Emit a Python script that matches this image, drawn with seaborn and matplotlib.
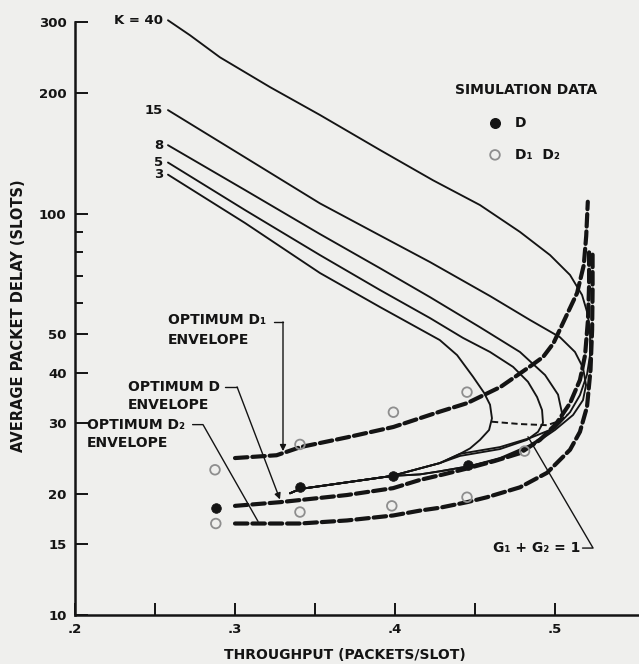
import numpy as np
import pandas as pd
import seaborn as sns
import matplotlib.pyplot as plt
from matplotlib.ticker import FixedLocator, FixedFormatter, NullFormatter

# throughput (packets/slot) vs average packet delay (slots)
# each K curve: upper branch left->right, nose, lower branch back to the left
K3_x = [0.2581, 0.3063, 0.3531, 0.3906, 0.428, 0.4388, 0.4488, 0.4556, 0.4594, 0.4606, 0.4588,
        0.4531, 0.4469, 0.4406, 0.428, 0.398, 0.3406, 0.3344]
K3_y = [125, 94.7, 71.1, 58.5, 48.4, 44.4, 39.2, 35.8, 33.4, 30.9, 28.9,
        27.3, 26.0, 25.2, 23.9, 22.2, 20.6, 20.1]

K5_x = [0.2581, 0.3063, 0.3531, 0.3906, 0.4219, 0.4425, 0.4594, 0.4738, 0.4831, 0.4888, 0.4919,
        0.4925, 0.4894, 0.4825, 0.4656, 0.4406, 0.428, 0.398, 0.3406, 0.3344]
K5_y = [134, 102, 78.8, 64.5, 54.9, 49.0, 45.2, 41.5, 38.1, 34.9, 32.4,
        30.1, 28.6, 27.3, 25.9, 24.9, 23.9, 22.2, 20.6, 20.1]

K8_x = [0.2581, 0.3063, 0.3531, 0.3906, 0.4219, 0.4531, 0.4781, 0.4938, 0.5019, 0.5044, 0.5031,
        0.4969, 0.4844, 0.4656, 0.4406, 0.428, 0.398, 0.3406, 0.3344]
K8_y = [148, 114.4, 88.9, 73.1, 61.9, 52.1, 45.2, 39.6, 35.4, 31.8, 30.2,
        28.9, 27.6, 26.2, 25.2, 23.9, 22.2, 20.6, 20.1]

K15_x = [0.2581, 0.3063, 0.3531, 0.3906, 0.4219, 0.4594, 0.4844, 0.5031, 0.5125, 0.5175, 0.5194,
         0.5175, 0.5113, 0.500, 0.4844, 0.4656, 0.4469, 0.428, 0.4156, 0.398, 0.3406, 0.3344]
K15_y = [181, 138, 106, 88.2, 75.7, 62.3, 54.3, 49.2, 45.2, 41.3, 37.4,
         34.3, 31.5, 28.9, 26.2, 24.5, 23.5, 22.8, 22.4, 22.2, 20.6, 20.1]

K40_x = [0.2581, 0.2719, 0.2906, 0.3219, 0.3531, 0.3906, 0.4238, 0.4531, 0.4781, 0.4969, 0.5094,
         0.5169, 0.5206, 0.5219, 0.5219, 0.520, 0.5156, 0.5094, 0.500, 0.4844, 0.4656, 0.4469,
         0.428, 0.4156, 0.398, 0.3406, 0.3344]
K40_y = [303, 278, 245, 206.5, 176, 144, 121, 105, 90, 78.8, 70.3,
         62.7, 55.9, 50, 44.4, 39.7, 35.3, 32.0, 29.2, 26.5, 24.6, 23.5,
         22.8, 22.4, 22.2, 20.6, 20.1]

K_values = ["K = 40", "15", "8", "5", "3"]

# optimum envelopes (thick dashed)
D1_env_x = [0.300, 0.326, 0.341, 0.370, 0.399, 0.428, 0.445, 0.466, 0.484, 0.4925, 0.499, 0.505,
            0.5138, 0.518, 0.5195, 0.5205]
D1_env_y = [24.6, 25.0, 26.2, 27.7, 29.4, 32.1, 33.7, 37.0, 41.5, 43.9, 47.5, 53.4,
            63.4, 74.4, 87.9, 107]

D_env_x = [0.300, 0.3281, 0.370, 0.3988, 0.4156, 0.4313, 0.4456, 0.4625, 0.4781, 0.4906, 0.5006,
           0.5094, 0.5156, 0.5188, 0.5206, 0.5213, 0.5213]
D_env_y = [18.7, 19.1, 19.9, 20.7, 21.7, 22.45, 23.2, 24.2, 25.3, 27.3, 29.9,
           33.7, 38.5, 44.4, 54.3, 66.4, 82]

D2_env_x = [0.300, 0.3406, 0.370, 0.399, 0.4156, 0.428, 0.445, 0.4575, 0.4781, 0.495, 0.5094,
            0.5156, 0.520, 0.5222, 0.5232, 0.5235, 0.5235]
D2_env_y = [16.9, 16.9, 17.2, 17.7, 18.2, 18.5, 19.1, 19.65, 20.8, 22.6, 25.8,
            28.6, 33.0, 40.8, 51.3, 64.4, 79]

# G1 + G2 = 1 locus (thin dashed)
G_x = [0.4606, 0.478, 0.495, 0.5025, 0.508]
G_y = [30.3, 29.9, 29.7, 30.4, 31.6]

# simulation data
sim_D_x = [0.288, 0.3406, 0.399, 0.4456]
sim_D_y = [18.5, 20.8, 22.2, 23.6]
sim_D1_x = [0.2875, 0.3406, 0.399, 0.445]
sim_D1_y = [23.0, 26.6, 32.0, 35.9]
sim_D2_x = [0.288, 0.3406, 0.398, 0.445, 0.481]
sim_D2_y = [16.9, 18.05, 18.7, 19.65, 25.6]

y_ticks = [10, 15, 20, 30, 40, 50, 100, 200, 300]
y_tick_labels = ["10", "15", "20", "30", "40", "50", "100", "200", "300"]
y_minor = [60, 70, 80, 90]
x_ticks = [0.2, 0.3, 0.4, 0.5]
x_tick_labels = [".2", ".3", ".4", ".5"]
x_minor = [0.25, 0.35, 0.45]

paper = "#efefed"
ink = "#141414"
ring = "#8e8e8e"

sns.set_theme(style="ticks")
plt.rcParams["font.family"] = ["DejaVu Sans"]
plt.rcParams["font.weight"] = "bold"
plt.rcParams["lines.scale_dashes"] = False

fig = plt.figure(figsize=(6.39, 6.64), dpi=100, facecolor=paper)
ax = fig.add_axes([75 / 639, 49 / 664, 564 / 639, 593 / 664], facecolor=paper)
ax.set_yscale("log")

curves = [(K40_x, K40_y), (K15_x, K15_y), (K8_x, K8_y), (K5_x, K5_y), (K3_x, K3_y)]
for (xs, ys), lab in zip(curves, K_values):
    sns.lineplot(x=xs, y=ys, sort=False, estimator=None, errorbar=None,
                 color=ink, linewidth=1.35, clip_on=False, ax=ax)
    ax.text(xs[0] - 0.003, ys[0], lab, ha="right", va="center",
            fontsize=9.5, fontweight="bold", color=ink)

for xs, ys in [(D1_env_x, D1_env_y), (D_env_x, D_env_y), (D2_env_x, D2_env_y)]:
    sns.lineplot(x=xs, y=ys, sort=False, estimator=None, errorbar=None,
                 color=ink, linewidth=3.0, linestyle=(0, (9, 3.5)),
                 dash_capstyle="round", ax=ax)

sns.lineplot(x=G_x, y=G_y, sort=False, estimator=None, errorbar=None,
             color=ink, linewidth=1.4, linestyle=(0, (4.5, 2.5)), ax=ax)

sns.scatterplot(x=sim_D_x, y=sim_D_y, s=48, color=ink, edgecolor=ink, zorder=5, ax=ax)
sns.scatterplot(x=sim_D1_x + sim_D2_x, y=sim_D1_y + sim_D2_y, s=48,
                facecolor="none", edgecolor=ring, linewidth=1.3, zorder=5, ax=ax)

# labels and leader lines
tk = dict(fontsize=10, fontweight="bold", color=ink, va="center")
arrow = dict(arrowstyle="-|>", color=ink, lw=1.0, mutation_scale=9, shrinkA=0, shrinkB=0)

ax.text(0.2581, 54.2, "OPTIMUM D\u2081", ha="left", **tk)
ax.text(0.2581, 48.4, "ENVELOPE", ha="left", **tk)
ax.plot([0.3245, 0.330], [53.7, 53.7], color=ink, lw=1.0)
ax.annotate("", xy=(0.330, 25.6), xytext=(0.330, 53.7), arrowprops=arrow)

ax.text(0.2331, 37.0, "OPTIMUM D", ha="left", **tk)
ax.text(0.2331, 33.3, "ENVELOPE", ha="left", **tk)
ax.plot([0.2935, 0.3013], [37.0, 37.0], color=ink, lw=1.0)
ax.annotate("", xy=(0.3281, 19.4), xytext=(0.3013, 37.0), arrowprops=arrow)

ax.text(0.2075, 29.8, "OPTIMUM D\u2082", ha="left", **tk)
ax.text(0.2075, 26.8, "ENVELOPE", ha="left", **tk)
ax.plot([0.2735, 0.280, 0.3144], [29.8, 29.8, 17.1], color=ink, lw=1.0)

ax.text(0.5156, 14.68, "G\u2081 + G\u2082 = 1", ha="right", **tk)
ax.plot([0.5172, 0.5238, 0.4831], [14.68, 14.68, 27.8], color=ink, lw=1.0)

# legend block
ax.text(0.4375, 203, "SIMULATION DATA", ha="left", **tk)
ax.scatter([0.4625], [168], s=48, color=ink)
ax.text(0.475, 168, "D", ha="left", **tk)
ax.scatter([0.4625], [140], s=48, facecolor="none", edgecolor=ring, linewidth=1.3)
ax.text(0.475, 140, "D\u2081  D\u2082", ha="left", **tk)

# axes styling
ax.set_xlim(0.2, 0.5525)
ax.set_ylim(10, 300)
ax.yaxis.set_major_locator(FixedLocator(y_ticks))
ax.yaxis.set_major_formatter(FixedFormatter(y_tick_labels))
ax.yaxis.set_minor_locator(FixedLocator(y_minor))
ax.yaxis.set_minor_formatter(NullFormatter())
ax.xaxis.set_major_locator(FixedLocator(x_ticks))
ax.xaxis.set_major_formatter(FixedFormatter(x_tick_labels))
ax.xaxis.set_minor_locator(FixedLocator(x_minor))

ax.tick_params(axis="both", which="major", direction="in", length=9, width=1.4,
               color=ink, labelsize=9.5, labelcolor=ink, pad=6)
ax.tick_params(axis="y", which="minor", direction="in", length=5.5, width=1.4, color=ink)
ax.tick_params(axis="x", which="minor", direction="in", length=9, width=1.4, color=ink)
for lab in ax.get_xticklabels() + ax.get_yticklabels():
    lab.set_fontweight("bold")

for side in ["top", "right"]:
    ax.spines[side].set_visible(False)
for side in ["left", "bottom"]:
    ax.spines[side].set_linewidth(1.8)
    ax.spines[side].set_color(ink)

ax.set_ylabel("AVERAGE PACKET DELAY (SLOTS)", fontsize=10.5, fontweight="bold",
              color=ink, va="center")
ax.yaxis.set_label_coords(-0.101, 0.504)
ax.set_xlabel("THROUGHPUT (PACKETS/SLOT)", fontsize=10, fontweight="bold",
              color=ink, va="center")
ax.xaxis.set_label_coords(0.479, -0.0675)

fig.savefig("out.png", dpi=100, facecolor=paper)
